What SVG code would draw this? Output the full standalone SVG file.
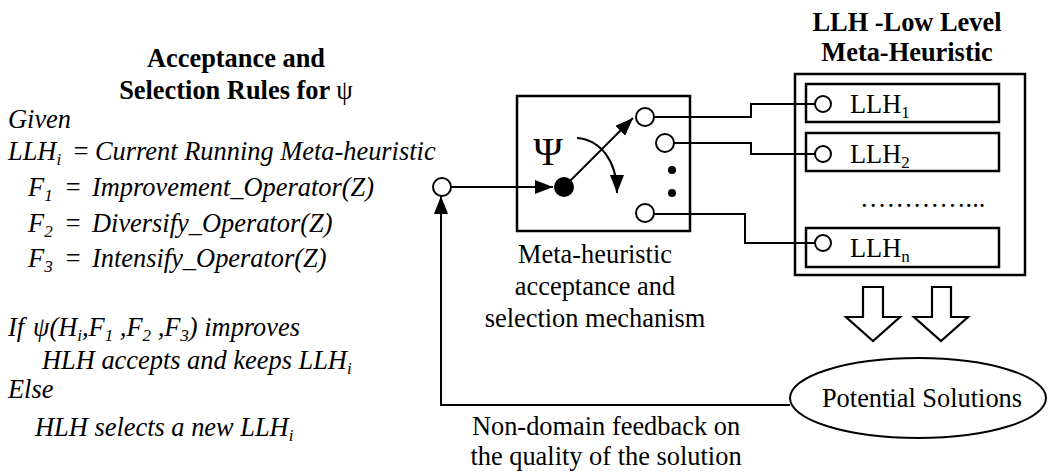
<svg xmlns="http://www.w3.org/2000/svg" width="1048" height="475" viewBox="0 0 1048 475" font-family="'Liberation Serif', 'Times New Roman', Times, 'DejaVu Serif', serif">
<style>
text{font-family:'Liberation Serif','Times New Roman',Times,'DejaVu Serif',serif;font-size:26.4px;fill:#000}
.b{font-weight:bold}
.i{font-style:italic}
.box{fill:none;stroke:#000;stroke-width:2.5}
.ln{fill:none;stroke:#000;stroke-width:2}
.oc{fill:#fff;stroke:#000;stroke-width:2}
.sub{font-size:17px}
.psi{font-size:40px}
.blk{fill:#fff;stroke:#000;stroke-width:2.2;stroke-linejoin:miter}
</style>
<defs>
<marker id="ah" viewBox="0 0 18 14" refX="18" refY="7" markerWidth="18" markerHeight="14" markerUnits="userSpaceOnUse" orient="auto">
<path d="M0,0 L18,7 L0,14 z" fill="#000"/>
</marker>
</defs>
<rect width="1048" height="475" fill="#fff"/>

<g id="rules">
<text class="b" x="236" y="67" text-anchor="middle">Acceptance and</text>
<text class="b" x="236" y="99" text-anchor="middle">Selection Rules for <tspan style="font-weight:normal">ψ</tspan></text>
<text class="i" x="8" y="128">Given</text>
<text class="i" x="8" y="160">LLH<tspan class="sub" dy="5">i</tspan><tspan x="72" dy="-5">=</tspan><tspan x="95">Current Running Meta-heuristic</tspan></text>
<text class="i" x="28" y="196">F<tspan class="sub" dy="5">1</tspan><tspan x="64" dy="-5">=</tspan><tspan x="92">Improvement_Operator(Z)</tspan></text>
<text class="i" x="28" y="232">F<tspan class="sub" dy="5">2</tspan><tspan x="64" dy="-5">=</tspan><tspan x="92">Diversify_Operator(Z)</tspan></text>
<text class="i" x="28" y="267">F<tspan class="sub" dy="5">3</tspan><tspan x="64" dy="-5">=</tspan><tspan x="92">Intensify_Operator(Z)</tspan></text>
<text class="i" x="8" y="336">If<tspan x="33">ψ(H</tspan><tspan class="sub" dy="5">i</tspan><tspan dy="-5">,F</tspan><tspan class="sub" dy="5">1</tspan><tspan dy="-5"> ,F</tspan><tspan class="sub" dy="5">2</tspan><tspan dy="-5"> ,F</tspan><tspan class="sub" dy="5">3</tspan><tspan dy="-5">) improves</tspan></text>
<text class="i" x="42" y="369">HLH accepts and keeps LLH<tspan class="sub" dy="5">i</tspan></text>
<text class="i" x="8" y="398">Else</text>
<text class="i" x="35" y="436">HLH selects a new LLH<tspan class="sub" dy="5">i</tspan></text>
</g>

<g id="meta-box">
<rect class="box" x="517" y="96" width="173" height="135"/>
<text class="psi" x="548" y="165" text-anchor="middle">Ψ</text>
<circle cx="564" cy="187" r="10" fill="#000"/>
<circle class="oc" cx="645" cy="117" r="9"/>
<circle class="oc" cx="665" cy="143" r="9"/>
<circle cx="672" cy="170" r="4" fill="#000"/>
<circle cx="672" cy="193" r="4" fill="#000"/>
<circle class="oc" cx="645" cy="213" r="9"/>
<path class="ln" d="M564,187 L633,118" marker-end="url(#ah)"/>
<path class="ln" d="M577,138 C600,140 617,160 617,193" marker-end="url(#ah)"/>
<text x="595" y="263" text-anchor="middle">Meta-heuristic</text>
<text x="595" y="295" text-anchor="middle">acceptance and</text>
<text x="595" y="327" text-anchor="middle">selection mechanism</text>
</g>

<g id="input">
<circle class="oc" cx="442" cy="187" r="9"/>
</g>

<g id="llh">
<text class="b" x="907" y="31" text-anchor="middle">LLH -Low Level</text>
<text class="b" x="907" y="61" text-anchor="middle">Meta-Heuristic</text>
<rect class="box" x="795" y="74" width="230" height="201"/>
<g id="llh1">
<rect class="box" x="806" y="84" width="193" height="38"/>
<circle class="oc" cx="823" cy="104" r="8"/>
<text x="850" y="113">LLH<tspan class="sub" dy="5">1</tspan></text>
</g>
<g id="llh2">
<rect class="box" x="806" y="133" width="193" height="38"/>
<circle class="oc" cx="823" cy="154" r="8"/>
<text x="850" y="163">LLH<tspan class="sub" dy="5">2</tspan></text>
</g>
<text x="860" y="207">…………...</text>
<g id="llhn">
<rect class="box" x="806" y="228" width="193" height="39"/>
<circle class="oc" cx="823" cy="243" r="8"/>
<text x="850" y="257">LLH<tspan class="sub" dy="5">n</tspan></text>
</g>
</g>

<g id="block-arrows">
<polygon class="blk" points="863,287 883,287 883,317 900,317 873,341 846,317 863,317"/>
<polygon class="blk" points="932,287 951,287 951,317 968,317 941,341 914,317 932,317"/>
</g>

<g id="solutions">
<ellipse class="ln" cx="918" cy="398" rx="128" ry="40"/>
<text x="922" y="407" text-anchor="middle">Potential Solutions</text>
</g>

<g id="connectors">
<path class="ln" d="M451,187 L553,187" marker-end="url(#ah)"/>
<path class="ln" d="M654,117 H751 V104 H815"/>
<path class="ln" d="M674,143 H751 V154 H815"/>
<path class="ln" d="M654,214 H745 V243 H815"/>
<path class="ln" d="M790,405 H441 V196" marker-end="url(#ah)"/>
</g>

<g id="feedback-label">
<text x="606" y="435" text-anchor="middle">Non-domain feedback on</text>
<text x="606" y="465" text-anchor="middle">the quality of the solution</text>
</g>
</svg>
